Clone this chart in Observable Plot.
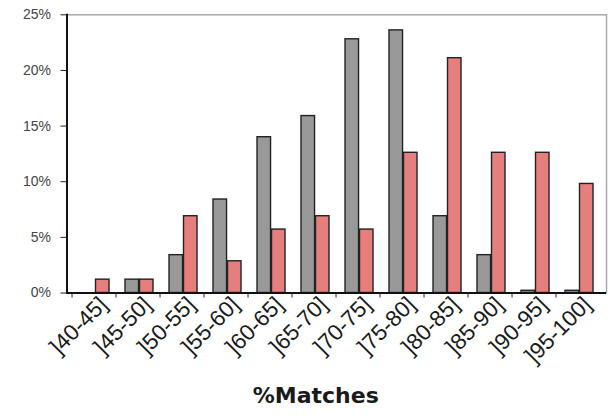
<!DOCTYPE html>
<html>
<head>
<meta charset="utf-8">
<script src="https://cdn.jsdelivr.net/npm/d3@7"></script>
<script src="https://cdn.jsdelivr.net/npm/@observablehq/plot@0.6"></script>
<style>
  html, body { margin: 0; padding: 0; background: #fff; }
  svg { display: block; }
</style>
</head>
<body>
<div id="chart"></div>
<script>
const categories = ["]40-45]", "]45-50]", "]50-55]", "]55-60]", "]60-65]", "]65-70]", "]70-75]", "]75-80]", "]80-85]", "]85-90]", "]90-95]", "]95-100]"];
const grayValues = [0, 1.2, 3.4, 8.4, 14.0, 15.9, 22.8, 23.6, 6.9, 3.4, 0.2, 0.2];
const redValues  = [1.2, 1.2, 6.9, 2.85, 5.7, 6.9, 5.7, 12.6, 21.1, 12.6, 12.6, 9.8];
const yTicks = [0, 5, 10, 15, 20, 25];
const xTitle = "%Matches";

const W = 613, H = 416;
const mL = 66.5, mR = 7, mT = 14.3, mB = 123.5;
const bw = (W - mL - mR) / categories.length;

const grayData = categories.map((c, i) => ({cat: c, v: grayValues[i]}));
const redData = categories.map((c, i) => ({cat: c, v: redValues[i]}));

const font = "'Liberation Sans', Arial, sans-serif";

const chart = Plot.plot({
  width: W,
  height: H,
  marginLeft: mL,
  marginRight: mR,
  marginTop: mT,
  marginBottom: mB,
  style: {fontFamily: font, background: "#fff", color: "#222"},
  x: {type: "band", domain: categories, padding: 0},
  y: {domain: [0, 25]},
  marks: [
    Plot.frame({stroke: "#a8a8a8", strokeWidth: 1.5}),
    Plot.barY(grayData, {x: "cat", y: "v", fill: "#999999", stroke: "#222", strokeWidth: 1.4, insetLeft: 9, insetRight: bw - 23.5}),
    Plot.barY(redData, {x: "cat", y: "v", fill: "#e67e7e", stroke: "#222", strokeWidth: 1.4, insetLeft: 23.5, insetRight: 7}),
    Plot.ruleY([0], {stroke: "#111", strokeWidth: 2}),
    Plot.frame({anchor: "left", stroke: "#111", strokeWidth: 2}),
    Plot.axisY({ticks: yTicks, tickFormat: d => d + "%", tickSize: 6, tickPadding: 10, fontSize: 14, label: null, stroke: "#222", fill: "#444", letterSpacing: "2px"}),
    Plot.axisX({tickSize: 5, tickFormat: () => "", dx: -bw / 2, label: null, stroke: "#222"}),
    Plot.axisX({tickSize: 0, tickRotate: -45, tickPadding: 8, dx: 9, fontSize: 22.5, label: null, fill: "#1a1a1a"}),
    Plot.text([xTitle], {frameAnchor: "bottom", lineAnchor: "middle", dx: -21, dy: 103, fontSize: 22, fontFamily: "'DejaVu Sans', sans-serif", letterSpacing: "1.3px", fill: "#1a1a1a", fontWeight: "bold"})
  ]
});
document.getElementById("chart").appendChild(chart);
</script>
</body>
</html>
